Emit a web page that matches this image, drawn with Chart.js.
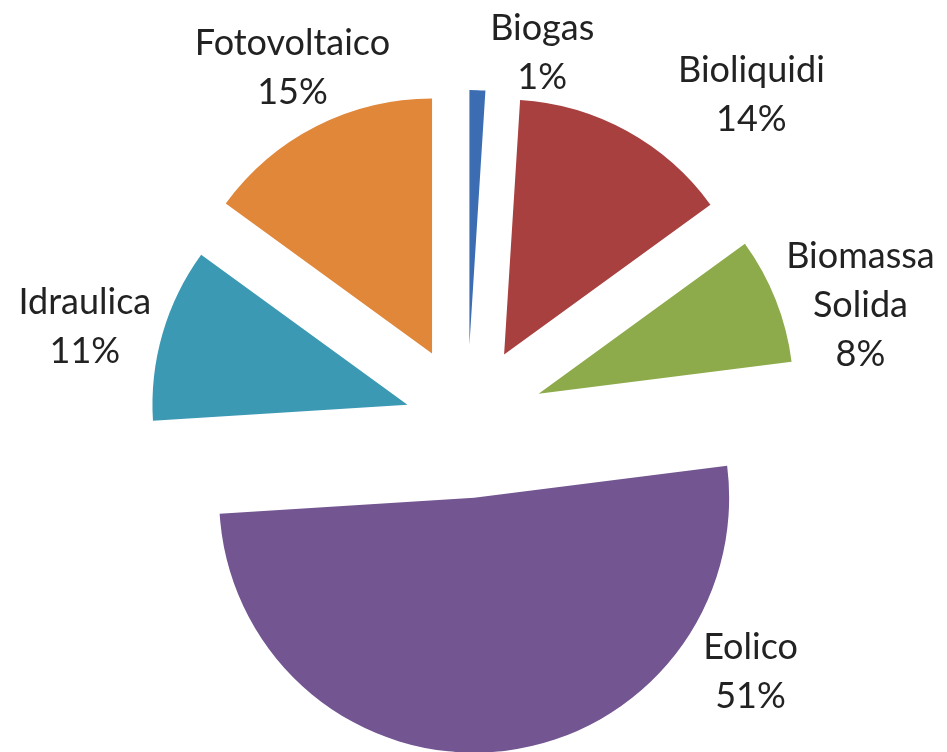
<!DOCTYPE html>
<html>
<head>
<meta charset="utf-8">
<script src="https://cdn.jsdelivr.net/npm/chart.js@4.4.1/dist/chart.umd.min.js"></script>
<style>
  html, body { margin: 0; padding: 0; background: #fff; }
</style>
</head>
<body>
<canvas id="pie" width="947" height="752"></canvas>
<script>
const labels = ["Biogas", "Bioliquidi", "Biomassa Solida", "Eolico", "Idraulica", "Fotovoltaico"];
const shares = [1, 14, 8, 51, 11, 15];
const sliceColors = ["#3c6db3", "#a8403f", "#8dab4b", "#725591", "#3b99b4", "#e0873a"];
// how far each slice is pulled out from the centre, px
const sliceExplode = [77, 77, 77, 76, 62, 77];

// where each label sits: angle clockwise from top, distance in radii
const labelLines = [["Biogas"], ["Bioliquidi"], ["Biomassa", "Solida"], ["Eolico"], ["Idraulica"], ["Fotovoltaico"]];
const labelAngle = [11.5, 41, 73.4, 131.3, 284.1, 333.8];
const labelDist = [1.48, 1.70, 1.61, 1.48, 1.545, 1.55];

const lineH = 49;
const capH = 24;

// chart.js "offset" also grows the arc radius, so pull the slices out by hand
const explodedSlices = {
  id: "explodedSlices",
  beforeDatasetDraw(chart, args) {
    const ctx = chart.ctx;
    args.meta.data.forEach((arc, i) => {
      const mid = (arc.startAngle + arc.endAngle) / 2;
      const d = sliceExplode[i];
      ctx.save();
      ctx.translate(Math.cos(mid) * d, Math.sin(mid) * d);
      arc.draw(ctx);
      ctx.restore();
    });
    return false;
  }
};

const outsideLabels = {
  id: "outsideLabels",
  afterDraw(chart) {
    const ctx = chart.ctx;
    const meta = chart.getDatasetMeta(0);
    const first = meta.data[0];
    const cx = first.x, cy = first.y, r = first.outerRadius;
    ctx.save();
    ctx.font = "36px Lato";
    ctx.textAlign = "center";
    ctx.textBaseline = "alphabetic";
    ctx.fillStyle = "#222222";
    meta.data.forEach((arc, i) => {
      const a = labelAngle[i] * Math.PI / 180;
      const x = cx + Math.sin(a) * r * labelDist[i];
      const y = cy - Math.cos(a) * r * labelDist[i];
      const lines = [...labelLines[i], shares[i] + "%"];
      lines.forEach((t, k) => {
        ctx.fillText(t, x, y - (lines.length - 1) * lineH / 2 + k * lineH + capH / 2);
      });
    });
    ctx.restore();
  }
};

new Chart(document.getElementById("pie"), {
  type: "pie",
  plugins: [explodedSlices, outsideLabels],
  data: {
    labels: labels,
    datasets: [{
      data: shares,
      backgroundColor: sliceColors,
      borderWidth: 0,
      hoverOffset: 0
    }]
  },
  options: {
    responsive: false,
    animation: false,
    radius: 255,
    layout: { padding: { left: 0, right: 13, top: 92, bottom: 0 } },
    plugins: {
      legend: { display: false },
      tooltip: { enabled: false }
    }
  }
});
</script>
</body>
</html>
